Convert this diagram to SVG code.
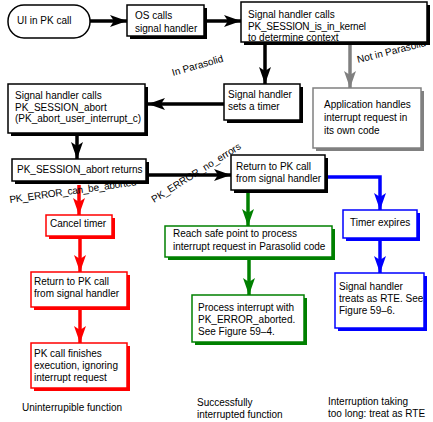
<svg xmlns="http://www.w3.org/2000/svg" width="433" height="422" viewBox="0 0 433 422">
<style>
text{font-family:"Liberation Sans",Arial,sans-serif;font-size:10px;fill:#000}
.box{fill:#fff;stroke-width:1.5}
.k{stroke:#000}.r{stroke:#f00}.g{stroke:#008000}.b{stroke:#00f}.gr{stroke:#808080}
.sk{fill:#000}.sr{fill:#f00}.sg{fill:#008000}.sb{fill:#00f}.sgr{fill:#808080}
.c{fill:none;stroke-width:3.5}
</style>
<defs>
<marker id="ak" markerUnits="userSpaceOnUse" viewBox="0 0 17 12" refX="17" refY="6" markerWidth="17" markerHeight="12" orient="auto"><path d="M0,0 L17,6 L0,12 L4,6 Z" fill="#000"/></marker>
<marker id="ar" markerUnits="userSpaceOnUse" viewBox="0 0 17 12" refX="17" refY="6" markerWidth="17" markerHeight="12" orient="auto"><path d="M0,0 L17,6 L0,12 L4,6 Z" fill="#f00"/></marker>
<marker id="ag" markerUnits="userSpaceOnUse" viewBox="0 0 17 12" refX="17" refY="6" markerWidth="17" markerHeight="12" orient="auto"><path d="M0,0 L17,6 L0,12 L4,6 Z" fill="#008000"/></marker>
<marker id="ab" markerUnits="userSpaceOnUse" viewBox="0 0 17 12" refX="17" refY="6" markerWidth="17" markerHeight="12" orient="auto"><path d="M0,0 L17,6 L0,12 L4,6 Z" fill="#00f"/></marker>
<marker id="agr" markerUnits="userSpaceOnUse" viewBox="0 0 17 12" refX="17" refY="6" markerWidth="17" markerHeight="12" orient="auto"><path d="M0,0 L17,6 L0,12 L4,6 Z" fill="#808080"/></marker>
</defs>

<g id="connectors">
<line class="c k" x1="90" y1="21" x2="127" y2="21" marker-end="url(#ak)"/>
<line class="c k" x1="207" y1="21" x2="241" y2="21" marker-end="url(#ak)"/>
<line class="c k" x1="265" y1="45" x2="265" y2="84" marker-end="url(#ak)"/>
<line class="c gr" x1="350" y1="45" x2="350" y2="88" marker-end="url(#agr)"/>
<line class="c k" x1="224" y1="104" x2="148" y2="104" marker-end="url(#ak)"/>
<line class="c k" x1="77" y1="136" x2="77" y2="159" marker-end="url(#ak)"/>
<line class="c k" x1="149" y1="175" x2="231" y2="175" marker-end="url(#ak)"/>
<line class="c r" x1="79" y1="185" x2="79" y2="215" marker-end="url(#ar)"/>
<line class="c r" x1="80" y1="239" x2="80" y2="272" marker-end="url(#ar)"/>
<line class="c r" x1="80" y1="310" x2="80" y2="343" marker-end="url(#ar)"/>
<line class="c g" x1="248" y1="193" x2="248" y2="226" marker-end="url(#ag)"/>
<line class="c g" x1="249" y1="260" x2="249" y2="295" marker-end="url(#ag)"/>
<polyline class="c b" points="327,177 380,177 380,210" marker-end="url(#ab)"/>
<line class="c b" x1="380" y1="241" x2="380" y2="273" marker-end="url(#ab)"/>
<text transform="translate(173,76) rotate(-16)">In Parasolid</text>
<text transform="translate(358,63) rotate(-14)">Not in Parasolid</text>
<text transform="translate(154,203) rotate(-32)">PK_ERROR_no_errors</text>
<text transform="translate(10,203) rotate(-8)" textLength="128">PK_ERROR_can_be_aborted</text>
</g>

<g id="n-ui">
<rect x="8" y="5" width="82" height="33" rx="16" ry="16" fill="#fff" stroke="#000" stroke-width="1.5"/>
<text x="17" y="24">UI in PK call</text>
</g>

<g id="n-os">
<rect class="sk" x="130" y="8" width="77" height="31"/>
<rect class="box k" x="127" y="5" width="77" height="31"/>
<text x="135" y="19">OS calls</text>
<text x="135" y="32">signal handler</text>
</g>

<g id="n-shcalls">
<rect class="sk" x="244" y="5" width="186" height="40"/>
<rect class="box k" x="241" y="2" width="186" height="40"/>
<text x="248" y="18">Signal handler calls</text>
<text x="248" y="30" textLength="118">PK_SESSION_is_in_kernel</text>
<text x="248" y="41">to determine context</text>
</g>

<g id="n-timer">
<rect class="sk" x="227" y="87" width="76" height="36"/>
<rect class="box k" x="224" y="84" width="76" height="36"/>
<text x="228" y="98">Signal handler</text>
<text x="228" y="110">sets a timer</text>
</g>

<g id="n-app">
<rect class="sgr" x="316" y="91" width="108" height="60"/>
<rect class="box gr" x="313" y="88" width="108" height="60"/>
<text x="324" y="108">Application handles</text>
<text x="324" y="121">interrupt request in</text>
<text x="324" y="134">its own code</text>
</g>

<g id="n-abort">
<rect class="sk" x="11" y="87" width="137" height="49"/>
<rect class="box k" x="8" y="84" width="137" height="49"/>
<text x="15" y="99">Signal handler calls</text>
<text x="15" y="111">PK_SESSION_abort</text>
<text x="15" y="122">(PK_abort_user_interrupt_c)</text>
</g>

<g id="n-returns">
<rect class="sk" x="15" y="162" width="134" height="22"/>
<rect class="box k" x="12" y="159" width="134" height="22"/>
<text x="17" y="173">PK_SESSION_abort returns</text>
</g>

<g id="n-return-mid">
<rect class="sk" x="234" y="158" width="94" height="35"/>
<rect class="box k" x="231" y="155" width="94" height="35"/>
<text x="236" y="170">Return to PK call</text>
<text x="236" y="182">from signal handler</text>
</g>

<g id="n-cancel">
<rect class="sr" x="49" y="218" width="66" height="21"/>
<rect class="box r" x="46" y="215" width="66" height="21"/>
<text x="50" y="227">Cancel timer</text>
</g>

<g id="n-return-red">
<rect class="sr" x="34" y="275" width="96" height="35"/>
<rect class="box r" x="31" y="272" width="96" height="35"/>
<text x="34" y="285">Return to PK call</text>
<text x="34" y="297">from signal handler</text>
</g>

<g id="n-finish">
<rect class="sr" x="34" y="346" width="96" height="45"/>
<rect class="box r" x="31" y="343" width="96" height="45"/>
<text x="34" y="357">PK call finishes</text>
<text x="34" y="369">execution, ignoring</text>
<text x="34" y="381">interrupt request</text>
</g>

<g id="n-safe">
<rect class="sg" x="168" y="229" width="167" height="31"/>
<rect class="box g" x="165" y="226" width="167" height="31"/>
<text x="173" y="237">Reach safe point to process</text>
<text x="173" y="250">interrupt request in Parasolid code</text>
</g>

<g id="n-process">
<rect class="sg" x="195" y="298" width="112" height="47"/>
<rect class="box g" x="192" y="295" width="112" height="47"/>
<text x="198" y="311">Process interrupt with</text>
<text x="198" y="323">PK_ERROR_aborted.</text>
<text x="198" y="335">See Figure 59–4.</text>
</g>

<g id="n-expires">
<rect class="sb" x="346" y="213" width="74" height="28"/>
<rect class="box b" x="343" y="210" width="74" height="28"/>
<text x="350" y="226">Timer expires</text>
</g>

<g id="n-rte">
<rect class="sb" x="338" y="276" width="89" height="55"/>
<rect class="box b" x="335" y="273" width="89" height="55"/>
<text x="339" y="290">Signal handler</text>
<text x="339" y="302">treats as RTE. See</text>
<text x="339" y="314">Figure 59–6.</text>
</g>

<g id="captions">
<text x="22" y="411">Uninterrupible function</text>
<text x="197" y="406">Successfully</text>
<text x="197" y="418">interrupted function</text>
<text x="328" y="405">Interruption taking</text>
<text x="328" y="417">too long: treat as RTE</text>
</g>
</svg>
